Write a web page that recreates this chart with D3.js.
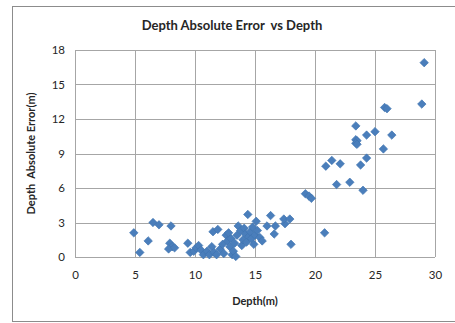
<!DOCTYPE html>
<html>
<head>
<meta charset="utf-8">
<script src="https://cdn.jsdelivr.net/npm/d3@7"></script>
<style>
  body { margin: 0; background: #fff; }
  text { font-family: Lato, "Open Sans", sans-serif; fill: #262626; white-space: pre; }
</style>
</head>
<body>
<div id="chart"></div>
<script>
// depth (m) and absolute error (m)
var depth = [4.9, 5.4, 6.1, 6.5, 7.0, 8.0, 7.9, 8.1, 7.8, 8.3,
  9.4, 9.6, 9.9, 10.1, 10.3, 10.5, 10.7, 11.0, 11.2, 11.4,
  11.6, 11.8, 11.5, 11.9, 12.1, 12.3, 12.4, 12.6, 12.8, 12.7,
  12.9, 13.0, 13.1, 13.2, 13.4, 13.3, 13.5, 13.6, 13.8, 13.9,
  14.0, 14.1, 14.2, 14.3, 14.4, 14.5, 14.6, 14.7, 14.8, 14.9,
  15.0, 15.1, 15.2, 15.4, 15.6, 16.0, 16.3, 16.6, 16.7, 17.5,
  17.4, 17.9, 18.0, 19.2, 19.5, 19.7, 20.8, 20.9, 21.4, 22.1,
  21.8, 22.9, 24.0, 23.8, 24.3, 23.4, 23.5, 23.4, 23.5, 25.7,
  23.4, 24.3, 25.0, 26.4, 25.8, 26.0, 28.9, 29.1];
var absError = [2.1, 0.4, 1.4, 3.0, 2.8, 2.7, 1.2, 0.9, 0.7, 0.8,
  1.2, 0.4, 0.5, 0.8, 1.0, 0.6, 0.2, 0.5, 0.2, 0.9,
  0.4, 0.2, 2.2, 2.4, 0.7, 1.1, 0.3, 1.9, 2.1, 1.4,
  0.9, 1.6, 0.2, 0.5, 0.05, 1.2, 1.9, 2.7, 2.3, 1.0,
  1.5, 2.5, 2.0, 1.3, 3.7, 1.8, 2.2, 1.6, 2.6, 1.1,
  1.9, 3.1, 2.3, 1.7, 1.4, 2.7, 3.6, 2.0, 2.7, 2.9,
  3.3, 3.3, 1.1, 5.5, 5.3, 5.1, 2.1, 7.9, 8.4, 8.1,
  6.3, 6.5, 5.8, 8.0, 8.6, 10.2, 10.1, 9.9, 9.8, 9.4,
  11.4, 10.6, 10.9, 10.6, 13.0, 12.9, 13.3, 16.9];
var xTicks = [0, 5, 10, 15, 20, 25, 30];
var yTicks = [0, 3, 6, 9, 12, 15, 18];

var W = 455, H = 323;
var margin = { top: 50, right: 20, bottom: 66, left: 75 };
var width = 435 - margin.left;
var height = 257 - margin.top;

var svg = d3.select("#chart").append("svg")
    .attr("width", W)
    .attr("height", H);

// chart area frame
svg.append("rect")
    .attr("x", 12.5).attr("y", 6.5)
    .attr("width", 450).attr("height", 315)
    .attr("fill", "#fff")
    .attr("stroke", "#8c8c8c");

svg.append("text")
    .attr("x", 232).attr("y", 30)
    .attr("text-anchor", "middle")
    .style("font-size", "13px")
    .style("font-weight", "bold")
    .text("Depth Absolute Error  vs Depth");

var g = svg.append("g")
    .attr("transform", "translate(" + margin.left + "," + margin.top + ")");

var x = d3.scaleLinear().domain([0, 30]).range([0, width]);
var y = d3.scaleLinear().domain([0, 18]).range([height, 0]);

// grid
g.selectAll(".vgrid").data(xTicks).enter().append("line")
    .attr("x1", function (d) { return Math.round(x(d)) + 0.5; })
    .attr("x2", function (d) { return Math.round(x(d)) + 0.5; })
    .attr("y1", 0).attr("y2", height)
    .attr("stroke", "#a6a6a6");
g.selectAll(".hgrid").data(yTicks).enter().append("line")
    .attr("y1", function (d) { return Math.round(y(d)) + 0.5; })
    .attr("y2", function (d) { return Math.round(y(d)) + 0.5; })
    .attr("x1", 0).attr("x2", width)
    .attr("stroke", "#a6a6a6");

var xAxis = g.append("g")
    .attr("transform", "translate(0," + height + ")")
    .call(d3.axisBottom(x).tickValues(xTicks).tickSize(0).tickPadding(14));
var yAxis = g.append("g")
    .call(d3.axisLeft(y).tickValues(yTicks).tickSize(0).tickPadding(10));
[xAxis, yAxis].forEach(function (a) {
    a.select(".domain").remove();
    a.selectAll("text").style("font-size", "11.5px").style("font-family", "Lato, sans-serif").attr("fill", "#333");
});

// points
var pts = depth.map(function (d, i) { return { d: d, e: absError[i] }; });
g.selectAll(".pt").data(pts).enter().append("path")
    .attr("d", d3.symbol().type(d3.symbolSquare).size(36))
    .attr("transform", function (p) {
        return "translate(" + x(p.d) + "," + y(p.e) + ") rotate(45)";
    })
    .attr("fill", "#4a7ebb")
    .attr("stroke", "#3f73b0")
    .attr("stroke-width", 0.6);

svg.append("text")
    .attr("x", margin.left + width / 2).attr("y", 305)
    .attr("text-anchor", "middle")
    .style("font-size", "11px")
    .style("font-weight", "bold")
    .text("Depth(m)");

svg.append("text")
    .attr("transform", "translate(35," + (margin.top + height / 2) + ") rotate(-90)")
    .attr("text-anchor", "middle")
    .style("font-size", "11px")
    .style("font-weight", "bold")
    .text("Depth  Absolute Error(m)");
</script>
</body>
</html>
